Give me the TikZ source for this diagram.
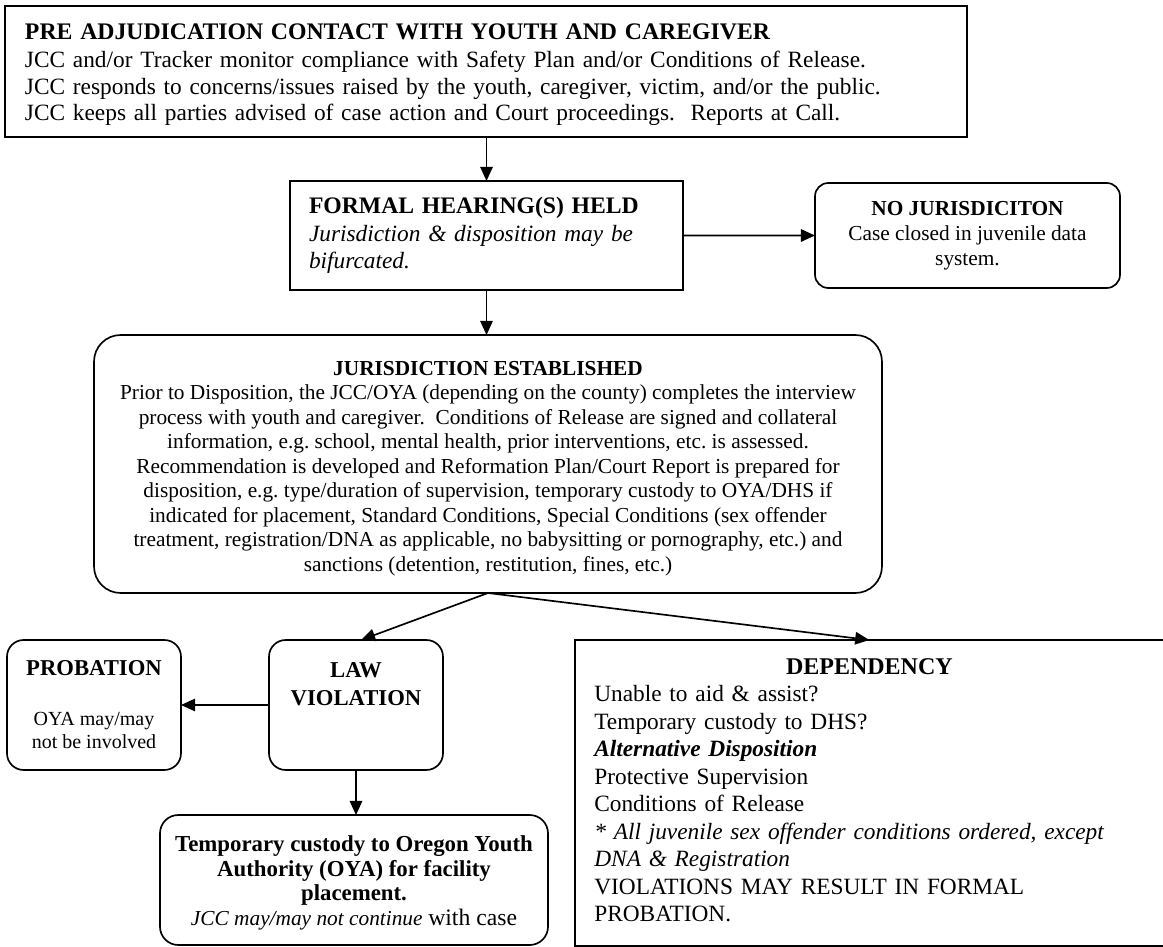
\documentclass[tikz,border=0pt]{standalone}
\usepackage{fontspec}
\setmainfont{Liberation Serif}
\usetikzlibrary{arrows.meta}
% invisible struts that lower (first line) or raise (last line) a centred text block
\newcommand\padtop[1]{\rule{0pt}{#1}}
\newcommand\padbottom[1]{\rule[-#1]{0pt}{#1}}
\begin{document}
\frenchspacing
\begin{tikzpicture}[x=0.6pt,y=-0.6pt,
  box/.style={draw, line width=1pt, inner sep=0pt, outer sep=0pt},
  link/.style={line width=1pt, -{Triangle[length=8.5pt,width=7.5pt]}},
]
\useasboundingbox (0,0) rectangle (1163,947);

% --- boxes -------------------------------------------------------------
\node[box, anchor=north west, minimum height=78.6pt, text width=553.2pt,
      inner xsep=12pt, align=left, font=\fontsize{14}{15.7}\selectfont]
  (top) at (5,6)
  {\padtop{13.3pt}{\fontsize{14.25}{15.7}\selectfont\bfseries PRE ADJUDICATION CONTACT WITH YOUTH AND CAREGIVER}\\[1.1pt]
   JCC and/or Tracker monitor compliance with Safety Plan and/or Conditions of Release.\\
   JCC responds to concerns/issues raised by the youth, caregiver, victim, and/or the public.\\
   JCC keeps all parties advised of case action and Court proceedings.\ \ Reports at Call.};

\node[box, anchor=north west, minimum height=65.4pt, text width=213pt,
      inner xsep=11.4pt, align=left, font=\fontsize{14}{16.5}\selectfont]
  (formal) at (290,181)
  {{\fontsize{14.2}{16.5}\selectfont\bfseries FORMAL HEARING(S) HELD}\\
   \textit{Jurisdiction \& disposition may be}\\
   \textit{bifurcated.}};

\node[box, rounded corners=8pt, anchor=north west, minimum width=183pt,
      minimum height=63pt, align=center, font=\fontsize{12.8}{15}\selectfont]
  (noj) at (815,183)
  {\textbf{NO JURISDICITON}\\
   Case closed in juvenile data\\
   system.};

\node[box, rounded corners=16pt, anchor=north west, minimum width=472.8pt,
      minimum height=154.8pt, align=center, font=\fontsize{12.8}{14.7}\selectfont]
  (jur) at (94,335)
  {\padtop{14.1pt}\textbf{JURISDICTION ESTABLISHED}\\
   Prior to Disposition, the JCC/OYA (depending on the county) completes the interview\\
   process with youth and caregiver.\ \ Conditions of Release are signed and collateral\\
   information, e.g. school, mental health, prior interventions, etc. is assessed.\\
   Recommendation is developed and Reformation Plan/Court Report is prepared for\\
   disposition, e.g. type/duration of supervision, temporary custody to OYA/DHS if\\
   indicated for placement, Standard Conditions, Special Conditions (sex offender\\
   treatment, registration/DNA as applicable, no babysitting or pornography, etc.) and\\
   sanctions (detention, restitution, fines, etc.)};

\node[box, rounded corners=10pt, anchor=north west, minimum width=104.4pt,
      minimum height=78pt, align=center, font=\fontsize{12}{13.8}\selectfont]
  (prob) at (7,640)
  {{\fontsize{13.6}{15}\selectfont\bfseries PROBATION}\\[16.2pt]
   OYA may/may\\
   not be involved};

\node[box, rounded corners=10pt, anchor=north west, minimum width=104.4pt,
      minimum height=78pt] (law) at (269,640) {};
\node[anchor=north, inner sep=0pt, align=center,
      font=\fontsize{13.6}{16.8}\selectfont\bfseries]
  (lawlabel) at ([yshift=-13.2pt]law.north) {LAW\\VIOLATION};

\node[box, rounded corners=11pt, anchor=north west, minimum width=232.8pt,
      minimum height=78pt, align=center, font=\fontsize{13.7}{14.8}\selectfont]
  (temp) at (160,815)
  {\padtop{12.9pt}\textbf{Temporary custody to Oregon Youth}\\
   \textbf{Authority (OYA) for facility}\\
   \textbf{placement.}\\
   {\fontsize{12.8}{14.8}\selectfont\itshape JCC may/may not continue}
   {\fontsize{14.2}{14.8}\selectfont with case}};

% the dependency box runs off the right edge, so only three sides are drawn
\node[anchor=north west, minimum height=183pt, text width=330pt,
      inner xsep=11.4pt, inner ysep=0pt, align=left,
      font=\fontsize{14}{16.5}\selectfont]
  (dep) at (575,640)
  {\makebox[\hsize]{\fontsize{14.4}{16.5}\selectfont\bfseries DEPENDENCY}\\
   Unable to aid \& assist?\\
   Temporary custody to DHS?\\
   \textbf{\textit{Alternative Disposition}}\\
   Protective Supervision\\
   Conditions of Release\\
   \textit{* All juvenile sex offender conditions ordered, except}\\
   \textit{DNA \& Registration}\\
   VIOLATIONS MAY RESULT IN FORMAL\\
   PROBATION.\padbottom{3.6pt}};
\draw[line width=1pt] ([xshift=20pt]dep.north east) -- (dep.north west)
  -- (dep.south west) -- ([xshift=20pt]dep.south east);

% --- connectors --------------------------------------------------------
\draw[link] (formal.north |- top.south) -- (formal.north);
\draw[link] (formal.east) -- (noj.west);
\draw[link] (formal.south) -- (formal.south |- jur.north);
\draw[link] (jur.south) -- ([xshift=3pt]law.north);
\draw[link] (jur.south) -- (dep.north);
\draw[link] (law.west) -- (prob.east);
\draw[link] (law.south) -- (law.south |- temp.north);
\end{tikzpicture}
\end{document}
